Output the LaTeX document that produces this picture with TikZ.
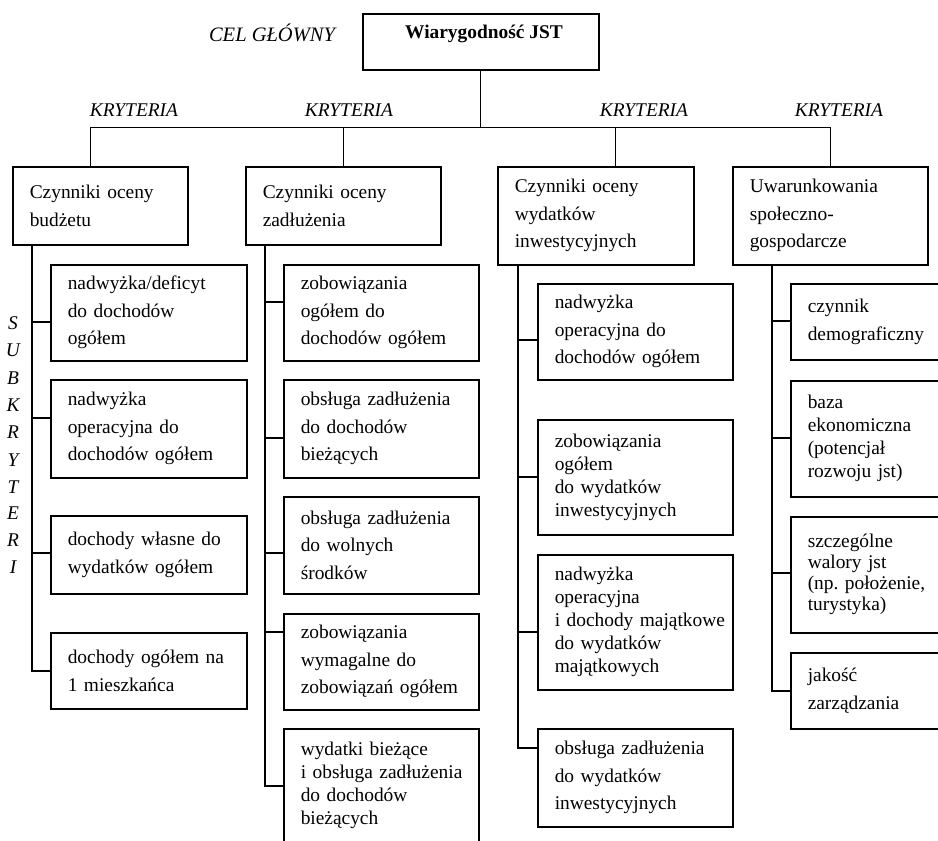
\documentclass[tikz,border=0pt]{standalone}
\usepackage{fontspec}
\setmainfont{Liberation Serif}
\newcommand\fsn{\fontsize{19.4}{27.5}\selectfont}
\newcommand\fst{\fontsize{19.4}{23}\selectfont}
\newcommand\fstt{\fontsize{19.4}{21}\selectfont}
\newcommand\nbline[1]{\mbox{#1}}
\begin{document}
\begin{tikzpicture}[x=1pt,y=-1pt,
  box/.style={draw, line width=1.5pt, anchor=north west, inner xsep=17pt, inner ysep=0pt, align=left, font=\fsn,
    execute at begin node={\hyphenpenalty=10000\exhyphenpenalty=10000\hbadness=10000\hfuzz=40pt}},
  tight/.style={font=\fst},
  tighter/.style={font=\fstt},
  colA/.style={box, minimum width=196, text width=162},
  colB/.style={box, minimum width=195, text width=161},
  colC/.style={box, minimum width=195, text width=161},
  colD/.style={box, minimum width=170, text width=136},
  conn/.style={line width=1.5pt},
  thinline/.style={line width=1pt},
  lab/.style={font=\fsn\itshape, inner sep=0pt}]
\useasboundingbox (0,0) rectangle (938,841);
\clip (0,0) rectangle (938,841);

% top
\node[draw, line width=1.5pt, anchor=north west, minimum width=236, minimum height=56, inner sep=0pt] (goal) at (362,13) {};
\node[font=\fsn\bfseries, inner sep=0pt] (goaltxt) at (484,34) {Wiarygodność JST};
\node[font=\fontsize{20.5}{24}\selectfont\itshape, inner sep=0pt] (cel) at (272,33) {CEL GŁÓWNY};
\node[lab] (kr1) at (134,110) {KRYTERIA};
\node[lab] (kr2) at (349,110) {KRYTERIA};
\node[lab] (kr3) at (644,110) {KRYTERIA};
\node[lab] (kr4) at (839,110) {KRYTERIA};

% main boxes
\node[box, minimum width=175, minimum height=78, text width=141] (b1) at (12,166) {Czynniki oceny\\budżetu};
\node[box, minimum width=195, minimum height=78, text width=161] (b2) at (245,166) {Czynniki oceny\\zadłużenia};
\node[box, minimum width=196, minimum height=98, text width=162] (b3) at (497,166) {Czynniki oceny\\wydatków\\inwestycyjnych};
\node[box, minimum width=195, minimum height=98, text width=161] (b4) at (732,166) {Uwarunkowania\\społeczno-\\gospodarcze};

% top tree
\coordinate (hub) at (goal.south |- 0,127);
\coordinate (k1) at ([xshift=78pt]b1.north west);
\coordinate (k3) at ([xshift=118pt]b3.north west);
\draw[thinline] (goal.south) -- (hub);
\draw[thinline] (k1) -- (k1 |- hub) -- (b4.north |- hub) -- (b4.north);
\draw[thinline] (b2.north) -- (b2.north |- hub);
\draw[thinline] (k3) -- (k3 |- hub);

% column 1
\node[colA, minimum height=96] (a1) at (50,264) {\nbline{nadwyżka/deficyt}\\do dochodów\\ogółem};
\node[colA, minimum height=98] (a2) at (50,379) {nadwyżka\\operacyjna do\\\nbline{dochodów ogółem}};
\node[colA, minimum height=78] (a3) at (50,515) {\nbline{dochody własne do}\\\nbline{wydatków ogółem}};
\node[colA, minimum height=76] (a4) at (50,632) {\nbline{dochody ogółem na}\\1 mieszkańca};
\coordinate (s1) at ([xshift=20pt]b1.south west);
\draw[conn] (s1) |- (a4.west);
\draw[conn] (s1 |- 0,322) -- (a1.west |- 0,322);
\draw[conn] (s1 |- 0,418) -- (a2.west |- 0,418);
\draw[conn] (s1 |- 0,553) -- (a3.west |- 0,553);

% SUBKRYTERI
\node[lab] (l1) at (13,323) {S};
\node[lab] (l2) at (13,350) {U};
\node[lab] (l3) at (13,378) {B};
\node[lab] (l4) at (13,405) {K};
\node[lab] (l5) at (13,432) {R};
\node[lab] (l6) at (13,460) {Y};
\node[lab] (l7) at (13,487) {T};
\node[lab] (l8) at (13,513) {E};
\node[lab] (l9) at (13,540) {R};
\node[lab] (l10) at (13,567) {I};

% column 2
\node[colB, minimum height=96] (c1) at (283,264) {zobowiązania\\ogółem do\\\nbline{dochodów ogółem}};
\node[colB, minimum height=98] (c2) at (283,379) {\nbline{obsługa zadłużenia}\\do dochodów\\bieżących};
\node[colB, minimum height=97] (c3) at (283,496) {\nbline{obsługa zadłużenia}\\do wolnych\\środków};
\node[colB, minimum height=96] (c4) at (283,613) {zobowiązania\\wymagalne do\\\nbline{zobowiązań ogółem}};
\node[colB, tight, minimum height=113] (c5) at (283,728) {wydatki bieżące\\\nbline{i obsługa zadłużenia}\\do dochodów\\bieżących};
\coordinate (s2) at ([xshift=20pt]b2.south west);
\draw[conn] (s2) |- (c5.west |- 0,786);
\draw[conn] (s2 |- 0,302) -- (c1.west |- 0,302);
\draw[conn] (s2 |- 0,438) -- (c2.west |- 0,438);
\draw[conn] (s2 |- 0,553) -- (c3.west |- 0,553);
\draw[conn] (s2 |- 0,632) -- (c4.west |- 0,632);

% column 3
\node[colC, minimum height=96] (d1) at (537,283) {nadwyżka\\operacyjna do\\\nbline{dochodów ogółem}};
\node[colC, tight, minimum height=115] (d2) at (537,419) {zobowiązania\\ogółem\\do wydatków\\inwestycyjnych};
\node[colC, tight, minimum height=135] (d3) at (537,554) {nadwyżka\\operacyjna\\\nbline{i dochody majątkowe}\\do wydatków\\majątkowych};
\node[colC, minimum height=98] (d4) at (537,728) {\nbline{obsługa zadłużenia}\\do wydatków\\inwestycyjnych};
\coordinate (s3) at ([xshift=21pt]b3.south west);
\draw[conn] (s3) |- (d4.west |- 0,748);
\draw[conn] (s3 |- 0,340) -- (d1.west |- 0,340);
\draw[conn] (s3 |- 0,477) -- (d2.west |- 0,477);
\draw[conn] (s3 |- 0,632) -- (d3.west |- 0,632);

% column 4
\node[colD, minimum height=76] (e1) at (790,283) {czynnik\\demograficzny};
\node[colD, tight, minimum height=116] (e2) at (790,380) {baza\\ekonomiczna\\(potencjał\\rozwoju jst)};
\node[colD, tighter, minimum height=116] (e3) at (790,516) {szczególne\\walory jst\\\nbline{(np.\ położenie,}\\turystyka)};
\node[colD, minimum height=76] (e4) at (790,652) {jakość\\zarządzania};
\coordinate (s4) at ([xshift=40pt]b4.south west);
\draw[conn] (s4) |- (e4.west);
\draw[conn] (s4 |- 0,321) -- (e1.west |- 0,321);
\draw[conn] (s4 |- 0,438) -- (e2.west |- 0,438);
\draw[conn] (s4 |- 0,573) -- (e3.west |- 0,573);
\end{tikzpicture}
\end{document}
